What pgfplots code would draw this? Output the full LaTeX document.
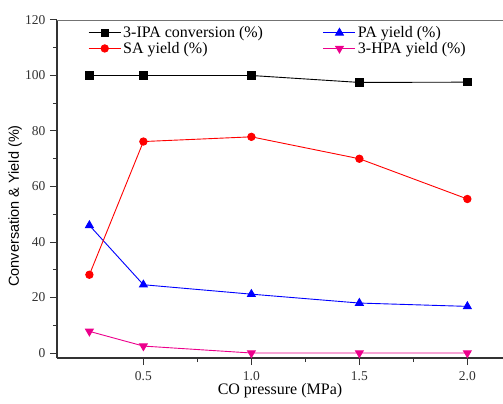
\documentclass[border=0pt]{standalone}
\usepackage{pgfplots}
\pgfplotsset{compat=1.18}
\usepackage{fontspec}
\setmainfont{Liberation Serif}
\newfontfamily\arialfont{Liberation Sans}
\begin{document}
\begin{tikzpicture}
\begin{axis}[
  name=ax,
  scale only axis,
  width=446pt, height=338pt,
  xmin=0.1, xmax=2.165, ymin=-1.8, ymax=120,
  axis x line*=bottom, axis y line*=left,
  axis line style={line width=1.3pt, black!80},
  tick style={line width=1pt, black!80},
  tick align=outside,
  major tick length=7pt, minor tick length=4pt,
  xtick={0.5,1.0,1.5,2.0},
  xticklabels={0.5,1.0,1.5,2.0},
  minor x tick num=1,
  ytick={0,20,40,60,80,100,120},
  minor y tick num=1,
  /pgf/number format/assume math mode=true,
  tick label style={font=\fontsize{13.5}{15}\selectfont, text=black!80},
  xticklabel style={yshift=-3pt},
  yticklabel style={xshift=-1pt},
  xlabel={CO pressure (MPa)},
  xlabel style={font=\fontsize{16}{18}\selectfont, yshift=4pt},
  ylabel={Conversation \& Yield (\%)},
  ylabel style={font=\arialfont\fontsize{14.5}{17}\selectfont, at={(axis description cs:-0.071,0.45)}},
  legend columns=2,
  legend cell align=left,
  legend style={draw=none, fill=none, at={(0.063,0.993)}, anchor=north west,
    font=\fontsize{16}{18}\selectfont, row sep=-1pt,
    /tikz/every even column/.append style={column sep=58pt}},
  legend image code/.code={\draw[mark repeat=2,mark phase=2,#1] plot coordinates {(0pt,0pt) (16pt,0pt) (32pt,0pt)};},
]
\draw[black!55, line width=0.8pt] (rel axis cs:0,1) -- (rel axis cs:1,1);
\addplot[black, line width=0.9pt, mark=square*, mark size=3.6pt] coordinates {
  (0.25,100) (0.5,100) (1.0,100) (1.5,97.5) (2.0,97.6)};
\addlegendentry{3-IPA conversion (\%)}
\addplot[blue, line width=0.9pt, mark=triangle*, mark size=4.5pt] coordinates {
  (0.25,46) (0.5,24.6) (1.0,21.2) (1.5,18.0) (2.0,16.8)};
\addlegendentry{PA yield (\%)}
\addplot[red, line width=0.9pt, mark=*, mark size=3.7pt] coordinates {
  (0.25,28.2) (0.5,76.2) (1.0,77.9) (1.5,70.0) (2.0,55.5)};
\addlegendentry{SA yield (\%)}
\addplot[magenta, line width=0.9pt, mark=triangle*, mark options={rotate=180}, mark size=4.5pt] coordinates {
  (0.25,7.8) (0.5,2.5) (1.0,0) (1.5,0) (2.0,0)};
\addlegendentry{3-HPA yield (\%)}
\end{axis}
\pgfresetboundingbox
\path[use as bounding box] ([shift={(-57pt,-46pt)}]ax.south west) rectangle ([shift={(0pt,20pt)}]ax.north east);
\end{tikzpicture}
\end{document}
